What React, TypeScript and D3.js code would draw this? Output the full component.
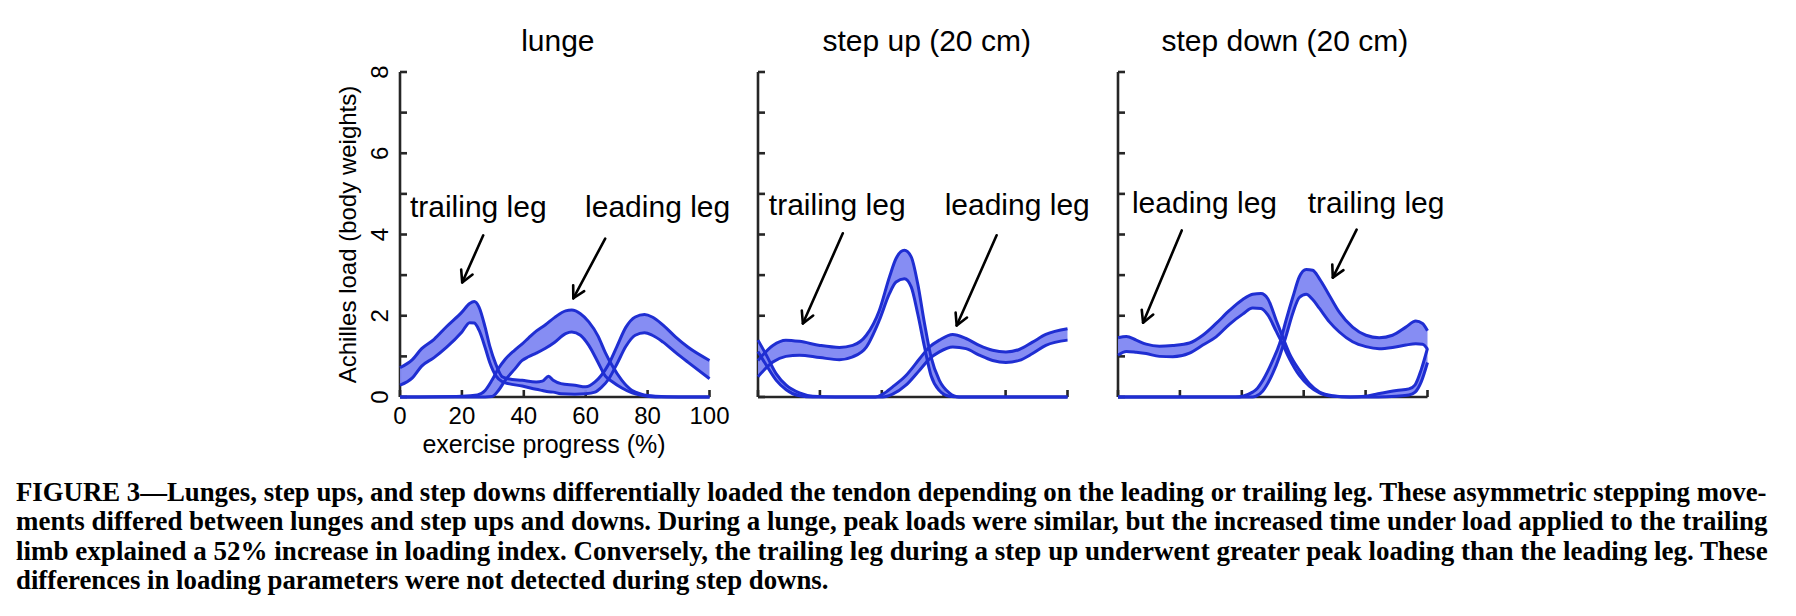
import React, { useLayoutEffect, useRef, useState } from "react";
import * as d3 from "d3";

// lunge: trailing leg band (exercise progress %, upper / lower load in body weights)
const lungeTrailX = [0, 4, 7, 11, 15, 20, 22.5, 24, 25.5, 27.5, 29, 31, 33, 35, 39.5, 44, 46, 48, 49.5, 52, 56.5, 60, 63, 65, 67.5, 70, 73, 76, 79, 81.5, 85, 89, 93, 100];
const lungeTrailHi = [0.72, 0.92, 1.19, 1.42, 1.73, 2.09, 2.3, 2.35, 2.22, 1.72, 1.25, 0.8, 0.5, 0.45, 0.41, 0.37, 0.39, 0.51, 0.41, 0.33, 0.29, 0.25, 0.37, 0.53, 0.82, 1.23, 1.72, 1.97, 2.03, 1.97, 1.77, 1.48, 1.23, 0.9];
const lungeTrailLo = [0.29, 0.47, 0.76, 0.97, 1.22, 1.6, 1.83, 1.82, 1.65, 1.22, 0.85, 0.52, 0.38, 0.33, 0.27, 0.19, 0.16, 0.13, 0.12, 0.08, 0.07, 0.08, 0.12, 0.23, 0.45, 0.8, 1.25, 1.52, 1.58, 1.52, 1.35, 1.1, 0.86, 0.45];

// lunge: leading leg band
const lungeLeadX = [0, 20, 25, 27.5, 29.7, 31.8, 34, 37, 39.5, 41.5, 44, 47, 50, 53.5, 55.5, 58.3, 61, 64, 66.3, 68.5, 71.7, 75, 78, 82.5, 90, 100];
const lungeLeadHi = [0, 0.02, 0.05, 0.16, 0.41, 0.7, 0.93, 1.15, 1.31, 1.45, 1.62, 1.78, 1.96, 2.12, 2.14, 2.05, 1.85, 1.5, 1.1, 0.78, 0.41, 0.16, 0.07, 0.02, 0, 0];
const lungeLeadLo = [0, 0, 0, 0, 0.01, 0.16, 0.41, 0.68, 0.9, 0.99, 1.08, 1.2, 1.35, 1.56, 1.6, 1.52, 1.27, 0.85, 0.52, 0.38, 0.22, 0.1, 0.04, 0, 0, 0];

// step up: trailing leg band
const upTrailX = [0, 4.8, 9, 13.4, 20, 26.3, 30.6, 35, 39.2, 42.5, 44.6, 47.3, 49.5, 51.6, 53.8, 55.9, 58.6, 61.8, 65, 100];
const upTrailHi = [0.9, 1.27, 1.4, 1.37, 1.27, 1.22, 1.27, 1.52, 2.13, 2.96, 3.41, 3.61, 3.45, 2.79, 1.81, 0.99, 0.41, 0.1, 0, 0];
const upTrailLo = [0.5, 0.86, 1.0, 1.03, 0.97, 0.92, 0.99, 1.23, 1.89, 2.55, 2.83, 2.91, 2.71, 2.05, 1.23, 0.53, 0.16, 0.02, 0, 0];

// step up: leading leg band
const upLeadX = [0, 2.7, 5.9, 9.1, 13.4, 17.7, 25, 38, 40.3, 43.5, 47.8, 52.2, 55.4, 58.6, 62.9, 67.2, 71.5, 75.8, 80.1, 84.4, 88.7, 93, 100];
const upLeadHi = [1.4, 1.03, 0.57, 0.29, 0.1, 0.02, 0, 0, 0.07, 0.25, 0.53, 0.94, 1.23, 1.4, 1.54, 1.44, 1.27, 1.15, 1.11, 1.17, 1.35, 1.54, 1.68];
const upLeadLo = [1.12, 0.78, 0.41, 0.18, 0.03, 0, 0, 0, 0, 0.07, 0.29, 0.66, 0.94, 1.11, 1.23, 1.19, 1.03, 0.9, 0.85, 0.9, 1.07, 1.27, 1.4];

// step down: leading leg band
const downLeadX = [0, 2.7, 5.9, 9.1, 13.4, 17.7, 23.1, 27.4, 31.7, 36, 40.3, 43.5, 46.2, 48.4, 51.1, 53.2, 55.4, 58.6, 61.8, 65.1, 69.4, 75, 80, 84, 90, 94, 96, 98, 100];
const downLeadHi = [1.46, 1.49, 1.4, 1.3, 1.25, 1.27, 1.33, 1.52, 1.81, 2.13, 2.4, 2.53, 2.55, 2.42, 1.89, 1.48, 1.07, 0.66, 0.33, 0.12, 0.03, 0, 0.02, 0.08, 0.16, 0.2, 0.3, 0.68, 1.2];
const downLeadLo = [1.03, 1.12, 1.1, 1.07, 1.0, 0.99, 1.08, 1.28, 1.48, 1.79, 2.04, 2.19, 2.18, 2.02, 1.62, 1.3, 0.94, 0.53, 0.27, 0.1, 0.02, 0, 0, 0, 0.02, 0.05, 0.12, 0.38, 0.85];

// step down: trailing leg band
const downTrailX = [0, 38, 40.3, 43.5, 44.6, 46.8, 50, 52.2, 54.3, 56.5, 58.6, 60.8, 62.9, 65.1, 68.3, 71.5, 75.8, 80.1, 84.4, 88.7, 93, 96.2, 98.4, 100];
const downTrailHi = [0, 0, 0.02, 0.12, 0.18, 0.41, 0.9, 1.31, 1.89, 2.46, 2.96, 3.14, 3.12, 2.91, 2.5, 2.09, 1.72, 1.52, 1.46, 1.52, 1.72, 1.87, 1.81, 1.63];
const downTrailLo = [0, 0, 0, 0, 0.02, 0.15, 0.58, 1.0, 1.5, 2.07, 2.45, 2.53, 2.4, 2.18, 1.85, 1.6, 1.36, 1.24, 1.19, 1.22, 1.28, 1.31, 1.3, 1.18];

const xTicks = [0, 20, 40, 60, 80, 100];
const yTicks = [0, 1, 2, 3, 4, 5, 6, 7, 8];
const yTickLabels = [0, 2, 4, 6, 8];

const captionLines = [
  "FIGURE 3\u2014Lunges, step ups, and step downs differentially loaded the tendon depending on the leading or trailing leg. These asymmetric stepping move-",
  "ments differed between lunges and step ups and downs. During a lunge, peak loads were similar, but the increased time under load applied to the trailing",
  "limb explained a 52% increase in loading index. Conversely, the trailing leg during a step up underwent greater peak loading than the leading leg. These",
  "differences in loading parameters were not detected during step downs.",
];

type Band = { x: number[]; hi: number[]; lo: number[] };
// label text at (tx, ty), arrow from (ax0, ay0) to tip (ax1, ay1), all in data units
type Note = { text: string; tx: number; ty: number; ax0: number; ay0: number; ax1: number; ay1: number };

const panels: { left: number; title: string; titleAt: number; bands: Band[]; notes: Note[]; labelled: boolean }[] = [
  {
    left: 400,
    title: "lunge",
    titleAt: 51,
    bands: [
      { x: lungeTrailX, hi: lungeTrailHi, lo: lungeTrailLo },
      { x: lungeLeadX, hi: lungeLeadHi, lo: lungeLeadLo },
    ],
    notes: [
      { text: "trailing leg", tx: 3.2, ty: 4.43, ax0: 26.9, ay0: 3.98, ax1: 20.1, ay1: 2.82 },
      { text: "leading leg", tx: 59.8, ty: 4.43, ax0: 66.3, ay0: 3.9, ax1: 56, ay1: 2.43 },
    ],
    labelled: true,
  },
  {
    left: 758,
    title: "step up (20 cm)",
    titleAt: 54.5,
    bands: [
      { x: upTrailX, hi: upTrailHi, lo: upTrailLo },
      { x: upLeadX, hi: upLeadHi, lo: upLeadLo },
    ],
    notes: [
      { text: "trailing leg", tx: 3.5, ty: 4.47, ax0: 27.4, ay0: 4.03, ax1: 14.5, ay1: 1.81 },
      { text: "leading leg", tx: 60.3, ty: 4.47, ax0: 77.1, ay0: 3.98, ax1: 64.2, ay1: 1.76 },
    ],
    labelled: false,
  },
  {
    left: 1118,
    title: "step down (20 cm)",
    titleAt: 53.9,
    bands: [
      { x: downLeadX, hi: downLeadHi, lo: downLeadLo },
      { x: downTrailX, hi: downTrailHi, lo: downTrailLo },
    ],
    notes: [
      { text: "leading leg", tx: 4.5, ty: 4.52, ax0: 20.6, ay0: 4.1, ax1: 8.1, ay1: 1.83 },
      { text: "trailing leg", tx: 61.3, ty: 4.52, ax0: 77.1, ay0: 4.12, ax1: 69.4, ay1: 2.94 },
    ],
    labelled: false,
  },
];

const PLOT_TOP = 72;
const PLOT_BOTTOM = 397;
const PLOT_WIDTH = 309.5;
const LINE_BLUE = "#1f2ed2";
const BAND_FILL = "#8087f2";
const AXIS = "#262626";
const SANS = "'Liberation Sans', Arial, Helvetica, sans-serif";
const SERIF = "'Liberation Serif', 'Times New Roman', Times, serif";

const CAPTION_LEFT = 16;
const CAPTION_RIGHT = 1768;
const CAPTION_BASELINES = [501, 530, 560, 589];

function Arrow({ x0, y0, x1, y1 }: { x0: number; y0: number; x1: number; y1: number }) {
  const ang = Math.atan2(y0 - y1, x0 - x1);
  const len = 13;
  const spread = 0.5;
  const h1 = [x1 + len * Math.cos(ang + spread), y1 + len * Math.sin(ang + spread)];
  const h2 = [x1 + len * Math.cos(ang - spread), y1 + len * Math.sin(ang - spread)];
  return (
    <g stroke="#000" strokeWidth={2.6} fill="none" strokeLinecap="round" strokeLinejoin="round">
      <line x1={x0} y1={y0} x2={x1} y2={y1} />
      <polyline points={`${h1[0]},${h1[1]} ${x1},${y1} ${h2[0]},${h2[1]}`} />
    </g>
  );
}

function Panel({ left, title, titleAt, bands, notes, labelled }: (typeof panels)[number]) {
  const x = d3.scaleLinear().domain([0, 100]).range([left, left + PLOT_WIDTH]);
  const y = d3.scaleLinear().domain([0, 8]).range([PLOT_BOTTOM, PLOT_TOP]);

  const areaOf = (b: Band) =>
    d3
      .area<number>()
      .x((d) => x(d))
      .y0((_, i) => y(b.lo[i]))
      .y1((_, i) => y(b.hi[i]))
      .curve(d3.curveMonotoneX)(b.x) ?? "";
  const lineOf = (b: Band, vals: number[]) =>
    d3
      .line<number>()
      .x((d) => x(d))
      .y((_, i) => y(vals[i]))
      .curve(d3.curveMonotoneX)(b.x) ?? "";

  return (
    <g>
      <text x={x(titleAt)} y={51} textAnchor="middle" fontSize={30} fontFamily={SANS}>
        {title}
      </text>

      {/* axes with inward ticks */}
      <g stroke={AXIS} strokeWidth={2.6}>
        <line x1={x(0)} y1={y(0)} x2={x(0)} y2={y(8)} />
        <line x1={x(0)} y1={y(0)} x2={x(100)} y2={y(0)} />
        {yTicks.map((t) => (
          <line key={"y" + t} x1={x(0)} x2={x(0) + 7} y1={y(t)} y2={y(t)} />
        ))}
        {xTicks.map((t) => (
          <line key={"x" + t} x1={x(t)} x2={x(t)} y1={y(0)} y2={y(0) - 7} />
        ))}
      </g>

      {labelled && (
        <g fontFamily={SANS} fontSize={24} fill="#000">
          {yTickLabels.map((t) => (
            <text key={t} transform={`translate(${x(0) - 12},${y(t)}) rotate(-90)`} textAnchor="middle">
              {t}
            </text>
          ))}
          {xTicks.map((t) => (
            <text key={t} x={x(t)} y={424} textAnchor="middle">
              {t}
            </text>
          ))}
          <text x={544} y={453} textAnchor="middle" fontSize={25}>
            exercise progress (%)
          </text>
          <text transform={`translate(356,${(y(0) + y(8)) / 2}) rotate(-90)`} textAnchor="middle">
            Achilles load (body weights)
          </text>
        </g>
      )}

      {bands.map((b, i) => (
        <path key={"f" + i} d={areaOf(b)} fill={BAND_FILL} fillOpacity={0.95} />
      ))}
      {bands.map((b, i) => (
        <g key={"l" + i} fill="none" stroke={LINE_BLUE} strokeWidth={3} strokeLinejoin="round">
          <path d={lineOf(b, b.hi)} />
          <path d={lineOf(b, b.lo)} />
        </g>
      ))}

      {notes.map((n) => (
        <g key={n.text}>
          <text x={x(n.tx)} y={y(n.ty)} fontSize={30} fontFamily={SANS}>
            {n.text}
          </text>
          <Arrow x0={x(n.ax0)} y0={y(n.ay0)} x1={x(n.ax1)} y1={y(n.ay1)} />
        </g>
      ))}
    </g>
  );
}

// caption set in a narrowed bold serif; full lines are stretched to the right margin,
// the last line keeps the first line's squeeze
function Caption() {
  const refs = useRef<(SVGTextElement | null)[]>([]);
  const [scales, setScales] = useState<number[]>(captionLines.map(() => 1));

  useLayoutEffect(() => {
    const widths = refs.current.map((el) => (el ? el.getComputedTextLength() : 1));
    const target = CAPTION_RIGHT - CAPTION_LEFT;
    const full = widths.map((w) => target / w);
    setScales(full.map((s, i) => (i === captionLines.length - 1 ? full[0] : s)));
  }, []);

  return (
    <g fontFamily={SERIF} fontWeight="bold" fontSize={27.5} fill="#000">
      {captionLines.map((line, i) => (
        <text
          key={i}
          ref={(el) => {
            refs.current[i] = el;
          }}
          transform={`translate(${CAPTION_LEFT},${CAPTION_BASELINES[i]}) scale(${scales[i]},1)`}
        >
          {line}
        </text>
      ))}
    </g>
  );
}

export default function App() {
  return (
    <svg
      width={1796}
      height={616}
      viewBox="0 0 1796 616"
      style={{ position: "absolute", left: 0, top: 0, background: "#fff" }}
    >
      <rect width={1796} height={616} fill="#fff" />
      {panels.map((p) => (
        <Panel key={p.title} {...p} />
      ))}
      <Caption />
    </svg>
  );
}
